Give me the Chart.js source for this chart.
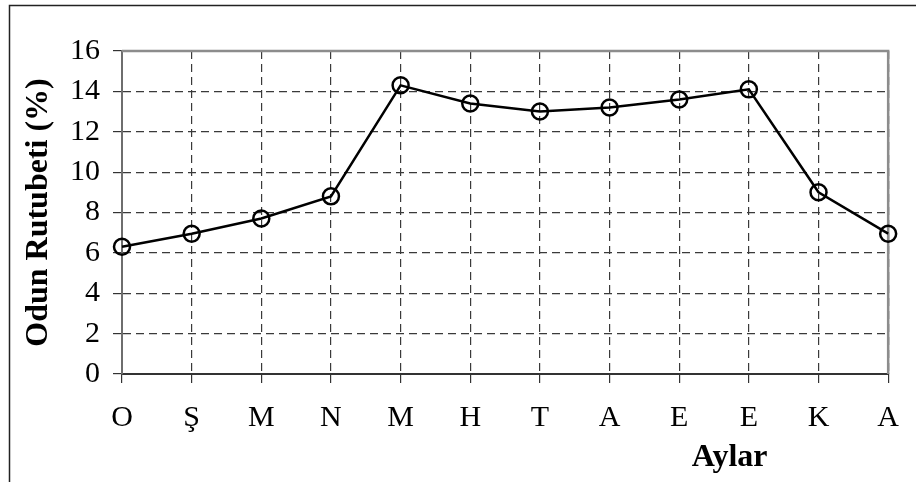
<!DOCTYPE html>
<html>
<head>
<meta charset="utf-8">
<script src="https://cdn.jsdelivr.net/npm/chart.js@4.4.0/dist/chart.umd.min.js"></script>
<style>
  html, body { margin: 0; padding: 0; background: #fff; }
  #wrap { width: 916px; height: 482px; position: relative; }
</style>
</head>
<body>
<div id="wrap"><canvas id="chart" width="916" height="482"></canvas></div>
<script>
// Odun rutubeti by month
const months = ['O', 'Ş', 'M', 'N', 'M', 'H', 'T', 'A', 'E', 'E', 'K', 'A'];
const moisture = [6.3, 6.95, 7.7, 8.8, 14.3, 13.4, 13.0, 13.2, 13.6, 14.1, 9.0, 6.95];
const yMin = 0;
const yMax = 16;
const yStep = 2;
const yTitle = 'Odun Rutubeti (%)';
const xTitle = 'Aylar';

const serif = '"Liberation Serif", "Times New Roman", serif';

// frame, plot border and the off-centre x title
const extras = {
    id: 'extras',
    beforeDatasetsDraw(chart) {
        const { ctx, chartArea: a } = chart;
        ctx.save();
        ctx.strokeStyle = '#8c8c8c';
        ctx.lineWidth = 2.5;
        ctx.beginPath();
        ctx.moveTo(a.left, a.top);
        ctx.lineTo(a.right, a.top);
        ctx.lineTo(a.right, a.bottom);
        ctx.stroke();
        ctx.restore();
    },
    afterDraw(chart) {
        const { ctx, chartArea: a } = chart;
        ctx.save();
        ctx.strokeStyle = '#222';
        ctx.lineWidth = 1.5;
        ctx.beginPath();
        ctx.moveTo(9.5, 482);
        ctx.lineTo(9.5, 5.5);
        ctx.lineTo(916, 5.5);
        ctx.stroke();
        ctx.font = 'bold 32px ' + serif;
        ctx.fillStyle = '#000';
        ctx.textAlign = 'center';
        ctx.textBaseline = 'middle';
        ctx.fillText(xTitle, a.left + (a.right - a.left) * 0.793, 458);
        ctx.restore();
    }
};

new Chart(document.getElementById('chart'), {
    type: 'line',
    data: {
        labels: months,
        datasets: [{
            data: moisture,
            borderColor: '#000',
            borderWidth: 2.5,
            tension: 0,
            pointRadius: 8,
            pointBorderWidth: 2.5,
            pointBorderColor: '#000',
            pointBackgroundColor: 'rgba(0,0,0,0)',
            clip: false
        }]
    },
    options: {
        responsive: false,
        animation: false,
        layout: { padding: { left: 0, top: 51, right: 27, bottom: 0 } },
        plugins: {
            legend: { display: false },
            tooltip: { enabled: false }
        },
        scales: {
            x: {
                offset: false,
                grid: {
                    color: '#3a3a3a',
                    lineWidth: 1.2,
                    tickLength: 9,
                    tickColor: '#333',
                    tickBorderDash: []
                },
                border: { color: '#333', width: 2, dash: [8, 5] },
                ticks: {
                    color: '#000',
                    font: { family: serif, size: 30 },
                    padding: 17,
                    maxRotation: 0,
                    autoSkip: false
                },
                afterFit(scale) { scale.height = 108; }
            },
            y: {
                min: yMin,
                max: yMax,
                grid: {
                    color: '#3a3a3a',
                    lineWidth: 1.2,
                    tickLength: 9,
                    tickColor: '#333',
                    tickBorderDash: []
                },
                border: { color: '#6e6e6e', width: 2, dash: [8, 5] },
                ticks: {
                    stepSize: yStep,
                    color: '#000',
                    font: { family: serif, size: 30 },
                    padding: 13
                },
                title: {
                    display: true,
                    text: yTitle,
                    color: '#000',
                    font: { family: serif, size: 32, weight: 'bold' },
                    padding: { top: 20, bottom: 0 }
                },
                afterFit(scale) { scale.width = 122; }
            }
        }
    },
    plugins: [extras]
});
</script>
</body>
</html>
